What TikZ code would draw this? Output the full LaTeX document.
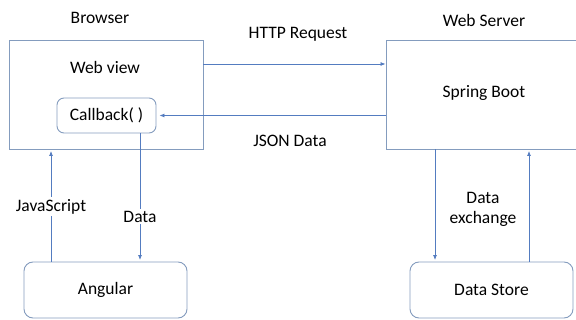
\documentclass[tikz,border=0pt]{standalone}
\usepackage{fontspec}
\setmainfont{Carlito}
\usetikzlibrary{arrows.meta}
\definecolor{boxline}{RGB}{132,156,190}
\definecolor{arrline}{RGB}{84,124,192}
\begin{document}
\begin{tikzpicture}[x=1pt,y=-1pt,
  every node/.style={font=\fontsize{17.5}{21}\selectfont, text=black},
  sqbox/.style={draw=boxline, line width=0.9pt, rectangle, inner sep=0pt},
  rbox/.style={draw=boxline, line width=0.9pt, rectangle, rounded corners=9pt, inner sep=0pt},
  conn/.style={draw=arrline, line width=0.8pt, -{Latex[length=5pt,width=4pt]}},
  lbl/.style={fill=white, inner sep=2pt}]
\useasboundingbox (0,0) rectangle (576,320);
\clip (0,0) rectangle (576,320);
% boxes
\node[sqbox, minimum width=194pt, minimum height=109pt] (browser) at (106,94.5) {};
\node (webview) at (105,67) {Web view};
\node[rbox, minimum width=99pt, minimum height=35pt, rounded corners=7pt] (callback) at (106.5,115.5) {Callback( )};
\node[sqbox, minimum width=200pt, minimum height=109pt] (server) at (486,94.5) {};
\node (spring) at (484,93) {Spring Boot};
\node[rbox, minimum width=163pt, minimum height=56pt] (angular) at (105.5,290) {Angular};
\node[rbox, minimum width=163pt, minimum height=56pt] (store) at (491.5,290) {Data Store};
% titles
\node (tbrowser) at (100,18) {Browser};
\node (tserver) at (484,20) {Web Server};
\node (thttp) at (298,34) {HTTP Request};
\node (tjson) at (290,141) {JSON Data};
\node[align=center, inner sep=0pt] (texch) at (483,209) {Data\\[-1pt]exchange};
% connectors
\draw[conn] ([yshift=30.5pt]browser.east) -- ([yshift=30.5pt]server.west);
\draw[conn, shorten >=3pt] (server.west |- callback.east) -- (callback.east);
\draw[conn, shorten >=1.5pt] ([xshift=-54.5pt]angular.north) coordinate (js0) -- (js0 |- browser.south)
  node[lbl, pos=0.49] (tjs) {JavaScript};
\draw[conn, shorten >=1.5pt] ([xshift=33.5pt]callback.south) coordinate (d0) -- (d0 |- angular.north)
  node[lbl, pos=0.65] (tdata) {Data};
\coordinate (s0) at ([xshift=-56.5pt]store.north);
\draw[conn, shorten >=1.5pt] (s0 |- server.south) -- (s0);
\draw[conn, shorten >=1.5pt] ([xshift=37.5pt]store.north) coordinate (s1) -- (s1 |- server.south);
\end{tikzpicture}
\end{document}
